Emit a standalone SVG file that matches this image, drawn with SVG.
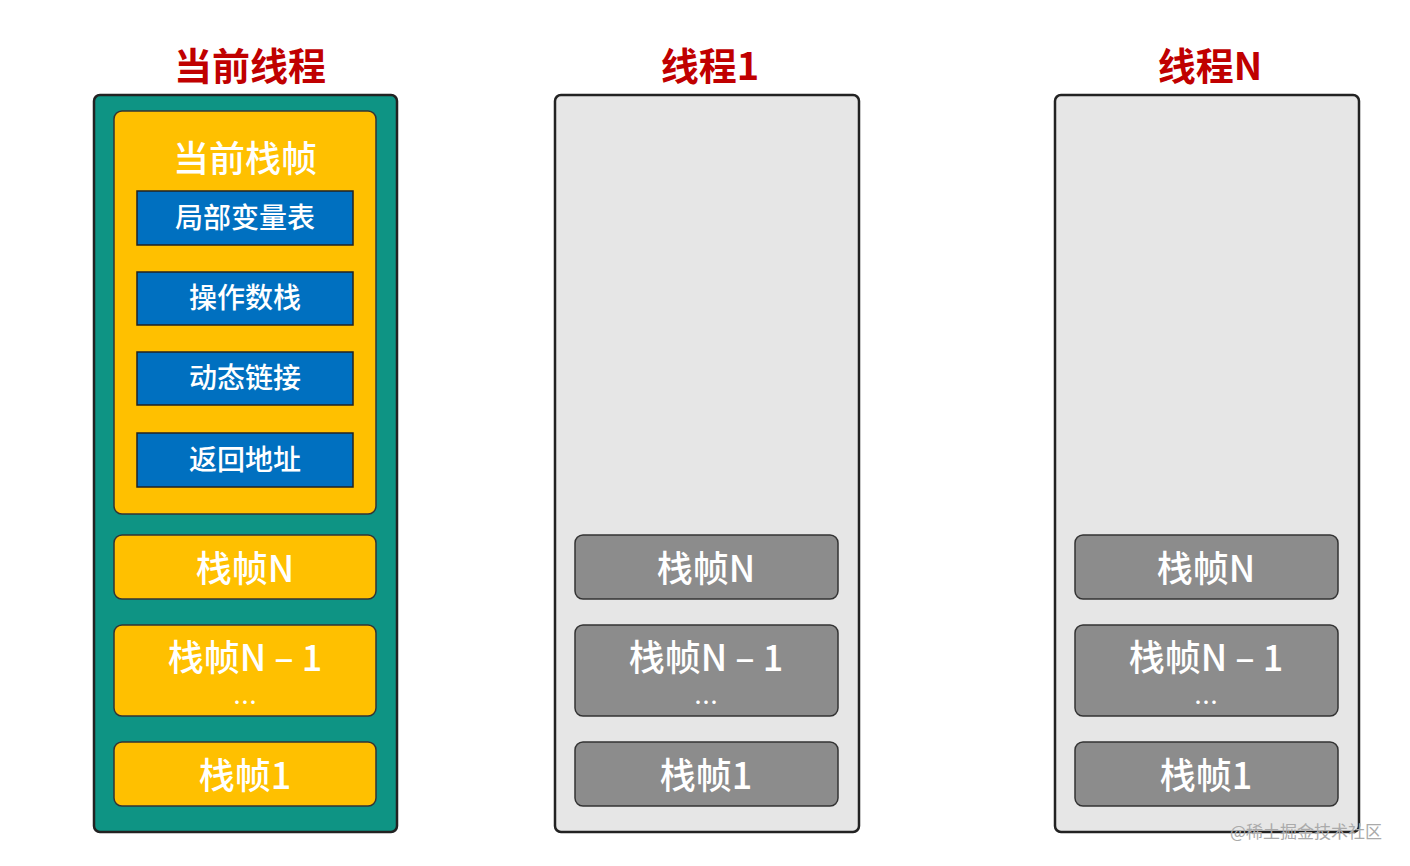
<svg xmlns="http://www.w3.org/2000/svg" width="1410" height="866" viewBox="0 0 1410 866">
<style>
text{font-family:"Noto Sans CJK SC","Liberation Sans",sans-serif;text-anchor:middle;font-weight:500}
.title{fill:#c00000;font-size:38px;font-weight:bold}
.w{fill:#fff}
.big{font-size:36px}
.mid{font-size:28px}
.dots{font-size:24px}
.frY{fill:#ffc000;stroke:#333;stroke-width:1.5}
.frG{fill:#8c8c8c;stroke:#333;stroke-width:1.5}
.blue{fill:#0070c0;stroke:#222;stroke-width:1.5}
.th{stroke:#222;stroke-width:2.5}
</style>
<rect width="1410" height="866" fill="#fff"/>
<g id="thread-current">
<text class="title" x="250" y="80">当前线程</text>
<rect class="th" x="94" y="95" width="303" height="737" rx="6" fill="#0e9484"/>
<rect class="frY" x="114" y="111" width="262" height="403" rx="8"/>
<text class="w big" x="245" y="172">当前栈帧</text>
<rect class="blue" x="137" y="191" width="216" height="54"/><text class="w mid" x="245" y="228">局部变量表</text>
<rect class="blue" x="137" y="272" width="216" height="53"/><text class="w mid" x="245" y="308">操作数栈</text>
<rect class="blue" x="137" y="352" width="216" height="53"/><text class="w mid" x="245" y="388">动态链接</text>
<rect class="blue" x="137" y="433" width="216" height="54"/><text class="w mid" x="245" y="470">返回地址</text>
<rect class="frY" x="114" y="535" width="262" height="64" rx="8"/><text class="w big" x="245" y="582">栈帧N</text>
<rect class="frY" x="114" y="625" width="262" height="91" rx="8"/><text class="w big" x="245" y="671">栈帧N – 1</text><text class="w dots" x="245" y="711">…</text>
<rect class="frY" x="114" y="742" width="262" height="64" rx="8"/><text class="w big" x="245" y="789">栈帧1</text>
</g>
<g id="thread-1">
<text class="title" x="710" y="80">线程1</text>
<rect class="th" x="555" y="95" width="304" height="737" rx="6" fill="#e6e6e6"/>
<rect class="frG" x="575" y="535" width="263" height="64" rx="8"/><text class="w big" x="706" y="582">栈帧N</text>
<rect class="frG" x="575" y="625" width="263" height="91" rx="8"/><text class="w big" x="706" y="671">栈帧N – 1</text><text class="w dots" x="706" y="711">…</text>
<rect class="frG" x="575" y="742" width="263" height="64" rx="8"/><text class="w big" x="706" y="789">栈帧1</text>
</g>
<g id="thread-n">
<text class="title" x="1210" y="80">线程N</text>
<rect class="th" x="1055" y="95" width="304" height="737" rx="6" fill="#e6e6e6"/>
<rect class="frG" x="1075" y="535" width="263" height="64" rx="8"/><text class="w big" x="1206" y="582">栈帧N</text>
<rect class="frG" x="1075" y="625" width="263" height="91" rx="8"/><text class="w big" x="1206" y="671">栈帧N – 1</text><text class="w dots" x="1206" y="711">…</text>
<rect class="frG" x="1075" y="742" width="263" height="64" rx="8"/><text class="w big" x="1206" y="789">栈帧1</text>
</g>
<g id="connectors"/>
<text x="1306" y="838" style="font-size:17px;font-weight:normal;fill:#aaa">@稀土掘金技术社区</text>
</svg>
